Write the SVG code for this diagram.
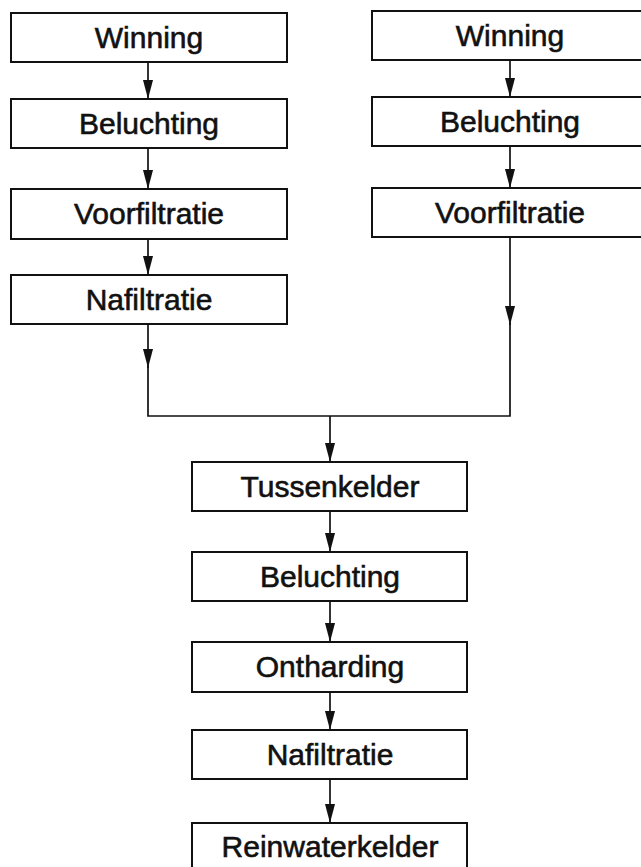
<svg xmlns="http://www.w3.org/2000/svg" width="641" height="867" viewBox="0 0 641 867">
  <style>
    .box { fill: #ffffff; stroke: #111111; stroke-width: 2; }
    .lbl { font-family: "Liberation Sans", Arial, Helvetica, sans-serif; font-size: 30px; fill: #111111; stroke: #111111; stroke-width: 0.6; text-anchor: middle; }
    .wire { fill: none; stroke: #111111; stroke-width: 1.7; }
  </style>
  <defs>
    <marker id="arrow" viewBox="0 -5 19 10" refX="19" refY="0" markerWidth="19" markerHeight="10" markerUnits="userSpaceOnUse" orient="auto">
      <path d="M0,-5 L19,0 L0,5 Z" fill="#111111"/>
    </marker>
  </defs>
  <rect width="641" height="867" fill="#ffffff"/>

  <!-- left line -->
  <g id="l-winning"><rect class="box" x="11" y="13" width="276" height="49"/><text class="lbl" x="149" y="48">Winning</text></g>
  <g id="l-beluchting"><rect class="box" x="11" y="99" width="276" height="49"/><text class="lbl" x="149" y="134">Beluchting</text></g>
  <g id="l-voorfiltratie"><rect class="box" x="11" y="189" width="276" height="50"/><text class="lbl" x="149" y="224">Voorfiltratie</text></g>
  <g id="l-nafiltratie"><rect class="box" x="11" y="275" width="276" height="49"/><text class="lbl" x="149" y="310">Nafiltratie</text></g>

  <!-- right line (boxes run past the right edge) -->
  <g id="r-winning"><rect class="box" x="372" y="11" width="290" height="49"/><text class="lbl" x="510" y="46">Winning</text></g>
  <g id="r-beluchting"><rect class="box" x="372" y="97" width="290" height="49"/><text class="lbl" x="510" y="132">Beluchting</text></g>
  <g id="r-voorfiltratie"><rect class="box" x="372" y="188" width="290" height="49"/><text class="lbl" x="510" y="223">Voorfiltratie</text></g>

  <!-- common line -->
  <g id="tussenkelder"><rect class="box" x="192" y="462" width="275" height="49"/><text class="lbl" x="330" y="497">Tussenkelder</text></g>
  <g id="m-beluchting"><rect class="box" x="192" y="552" width="275" height="49"/><text class="lbl" x="330" y="587">Beluchting</text></g>
  <g id="ontharding"><rect class="box" x="192" y="642" width="275" height="50"/><text class="lbl" x="330" y="677">Ontharding</text></g>
  <g id="m-nafiltratie"><rect class="box" x="192" y="730" width="275" height="49"/><text class="lbl" x="330" y="765">Nafiltratie</text></g>
  <g id="reinwaterkelder"><rect class="box" x="192" y="823" width="275" height="80"/><text class="lbl" x="330" y="857">Reinwaterkelder</text></g>

  <g id="connectors">
    <line class="wire" x1="148" y1="62" x2="148" y2="99" marker-end="url(#arrow)"/>
    <line class="wire" x1="148" y1="148" x2="148" y2="189" marker-end="url(#arrow)"/>
    <line class="wire" x1="148" y1="239" x2="148" y2="275" marker-end="url(#arrow)"/>
    <line class="wire" x1="148" y1="324" x2="148" y2="368" marker-end="url(#arrow)"/>
    <line class="wire" x1="510" y1="60" x2="510" y2="97" marker-end="url(#arrow)"/>
    <line class="wire" x1="510" y1="146" x2="510" y2="188" marker-end="url(#arrow)"/>
    <line class="wire" x1="510" y1="237" x2="510" y2="325" marker-end="url(#arrow)"/>
    <path class="wire" d="M148,366 V416 H510 V323"/>
    <line class="wire" x1="330" y1="416" x2="330" y2="462" marker-end="url(#arrow)"/>
    <line class="wire" x1="330" y1="511" x2="330" y2="552" marker-end="url(#arrow)"/>
    <line class="wire" x1="330" y1="601" x2="330" y2="642" marker-end="url(#arrow)"/>
    <line class="wire" x1="330" y1="692" x2="330" y2="730" marker-end="url(#arrow)"/>
    <line class="wire" x1="330" y1="779" x2="330" y2="823" marker-end="url(#arrow)"/>
  </g>
</svg>
